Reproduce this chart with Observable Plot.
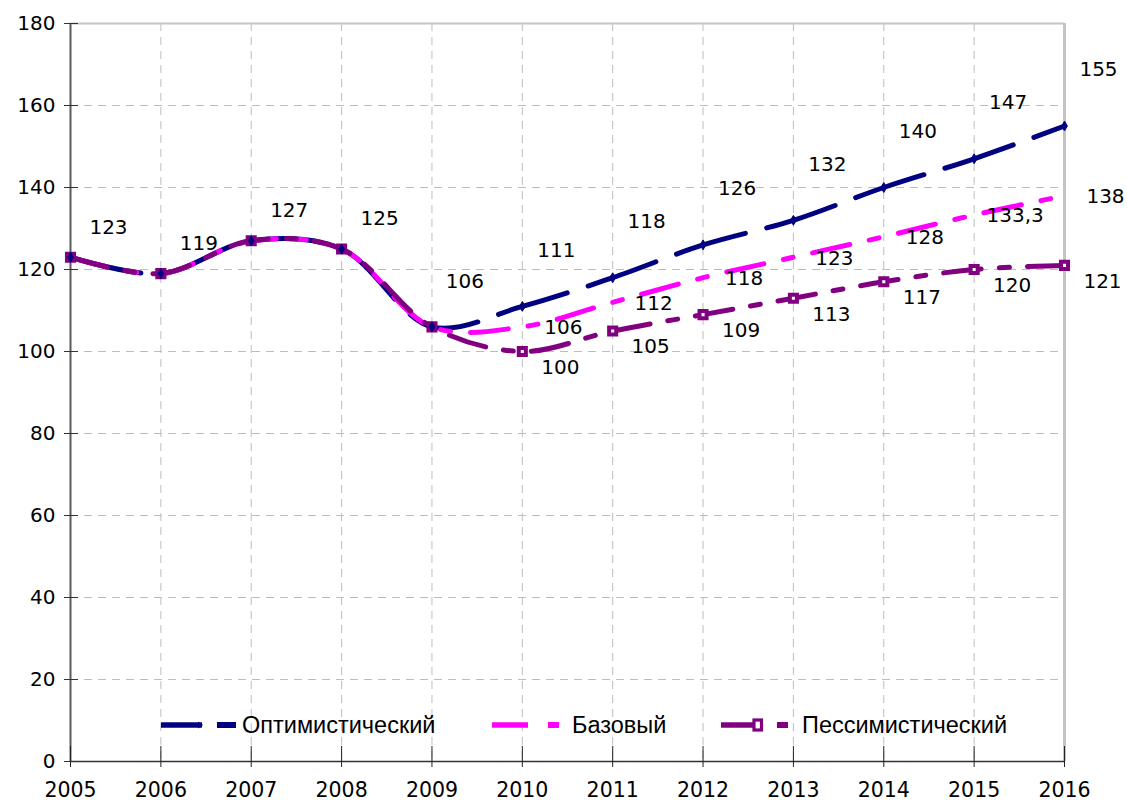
<!DOCTYPE html>
<html><head><meta charset="utf-8">
<script src="https://cdn.jsdelivr.net/npm/d3@7"></script>
<script src="https://cdn.jsdelivr.net/npm/@observablehq/plot@0.6"></script>
<style>
body{margin:0;background:#fff;}
#wrap{position:relative;width:1127px;height:805px;overflow:hidden;}
#legend{position:absolute;left:0;top:0;width:1127px;height:805px;pointer-events:none;font-family:"Liberation Sans",Arial,sans-serif;font-size:23.5px;color:#000;}
.lg-sw{position:absolute;top:718px;}
.lg-tx{position:absolute;top:711px;line-height:28px;white-space:nowrap;}
</style></head><body>
<div id="wrap"><div id="chart"></div><div id="legend"></div></div>
<script>
// ---- data ----
const years = [2005,2006,2007,2008,2009,2010,2011,2012,2013,2014,2015,2016];
const optimistic  = [123,119,127,125,106,111,118,126,132,140,147,155];
const baseline    = [123,119,127,125,106,106,112,118,123,128,133.3,138];
const pessimistic = [123,119,127,125,106,100,105,109,113,117,120,121];
const yTicks = [0,20,40,60,80,100,120,140,160,180];
const seriesNames = ["Оптимистический","Базовый","Пессимистический"];
const seriesColors = ["#000080","#FF00FF","#800080"];

const fmt = v => String(v).replace(".", ",");
const rows = vals => years.map((y,i) => ({year:y, value:vals[i], label:fmt(vals[i])}));
const optRows = rows(optimistic), baseRows = rows(baseline), pessRows = rows(pessimistic);
const histOpt = optRows.filter(d => d.year <= 2008);
const opt2009 = optRows.filter(d => d.year === 2009);
const foreOpt = optRows.filter(d => d.year >= 2010);
const foreBase = baseRows.filter(d => d.year >= 2010);
const forePess = pessRows.filter(d => d.year >= 2010);

const [cOpt, cBase, cPess] = seriesColors;
const labelFont = {fontSize: 20, fontFamily: "DejaVu Sans, Verdana, sans-serif", fill: "#000"};

const chart = Plot.plot({
  width: 1127, height: 805,
  marginLeft: 70, marginRight: 63, marginTop: 23, marginBottom: 44,
  style: {fontFamily: "DejaVu Sans, Verdana, sans-serif", fontSize: "20px", color: "#000", background: "#fff"},
  x: {domain: [2005, 2016]},
  y: {domain: [0, 180]},
  marks: [
    Plot.gridX(years.slice(1, -1), {stroke: "#bdbdbd", strokeOpacity: 1, strokeDasharray: "8,6"}),
    Plot.gridY(yTicks.slice(1, -1), {stroke: "#bdbdbd", strokeOpacity: 1, strokeDasharray: "8,6"}),
    Plot.ruleY([180], {stroke: "#c4c4c4", strokeWidth: 2}),
    Plot.ruleX([2016], {stroke: "#c4c4c4", strokeWidth: 3}),
    Plot.ruleX([2005], {stroke: "#5a5a5a", strokeWidth: 2}),
    Plot.ruleY([0], {stroke: "#333", strokeWidth: 1.5}),
    Plot.axisX(years, {tickSize: 21, dy: -15, fill: "none", stroke: "#222", label: null}),
    Plot.axisX(years, {tickSize: 0, tickPadding: 21, tickFormat: d => String(d), fontSize: 20.5, label: null}),
    Plot.axisY(yTicks, {tickSize: 14, dx: 8, fill: "none", stroke: "#333", label: null}),
    Plot.axisY(yTicks, {tickSize: 0, tickPadding: 15, fontSize: 20, label: null}),
    Plot.line(optRows, {x: "year", y: "value", stroke: cOpt, strokeWidth: 5, strokeDasharray: "72,22", curve: "catmull-rom"}),
    Plot.line(baseRows, {x: "year", y: "value", stroke: cBase, strokeWidth: 5, strokeDasharray: "38,20,10,20", curve: "catmull-rom"}),
    Plot.line(pessRows, {x: "year", y: "value", stroke: cPess, strokeWidth: 5, strokeDasharray: "38,18,10,18", curve: "catmull-rom"}),
    Plot.dot(pessRows, {x: "year", y: "value", symbol: "square", r: 4, stroke: cPess, strokeWidth: 4, fill: "#fff"}),
    Plot.dot(optRows, {x: "year", y: "value", symbol: "diamond", r: 3, fill: cOpt, stroke: cOpt, strokeWidth: 1}),
    Plot.text(histOpt, {x: "year", y: "value", text: "label", dx: 38, dy: -30, ...labelFont}),
    Plot.text(opt2009, {x: "year", y: "value", text: "label", dx: 33, dy: -45, ...labelFont}),
    Plot.text(foreOpt, {x: "year", y: "value", text: "label", dx: 34, dy: -56, ...labelFont}),
    Plot.text(foreBase, {x: "year", y: "value", text: "label", dx: 41, dy: 1, ...labelFont}),
    Plot.text(forePess, {x: "year", y: "value", text: "label", dx: 38, dy: 16, ...labelFont})
  ]
});
document.getElementById("chart").appendChild(chart);

// ---- legend (HTML overlay inside plot area) ----
const legendLayout = [
  {left: 161, line: 41, gap: 15, dashW: 19, marker: "arrow", textLeft: 242},
  {left: 492, line: 36, gap: 20, dashW: 11, marker: null, textLeft: 572},
  {left: 721, line: 37, gap: 19, dashW: 11, marker: "square", textLeft: 802}
];
const legend = document.getElementById("legend");
seriesNames.forEach((name, i) => {
  const L = legendLayout[i], c = seriesColors[i];
  const w = L.line + L.gap + L.dashW + 4;
  let svg = `<svg width="${w}" height="14" style="display:block;overflow:visible">` +
    `<line x1="0" y1="7" x2="${L.line}" y2="7" stroke="${c}" stroke-width="5.5"/>` +
    `<rect x="${L.line + L.gap}" y="4" width="${L.dashW}" height="6" fill="${c}"/>`;
  if (L.marker === "arrow") svg += `<path d="M${L.line-4},3.5 L${L.line+1},7 L${L.line-4},10.5 Z" fill="${c}"/>`;
  if (L.marker === "square") svg += `<rect x="${L.line-4}" y="2" width="7.5" height="10" fill="#fff" stroke="${c}" stroke-width="3.2"/>`;
  svg += `</svg>`;
  const sw = document.createElement("div");
  sw.className = "lg-sw";
  sw.style.left = L.left + "px";
  sw.innerHTML = svg;
  legend.appendChild(sw);
  const tx = document.createElement("div");
  tx.className = "lg-tx";
  tx.style.left = L.textLeft + "px";
  tx.textContent = name;
  legend.appendChild(tx);
});
</script>
</body></html>
